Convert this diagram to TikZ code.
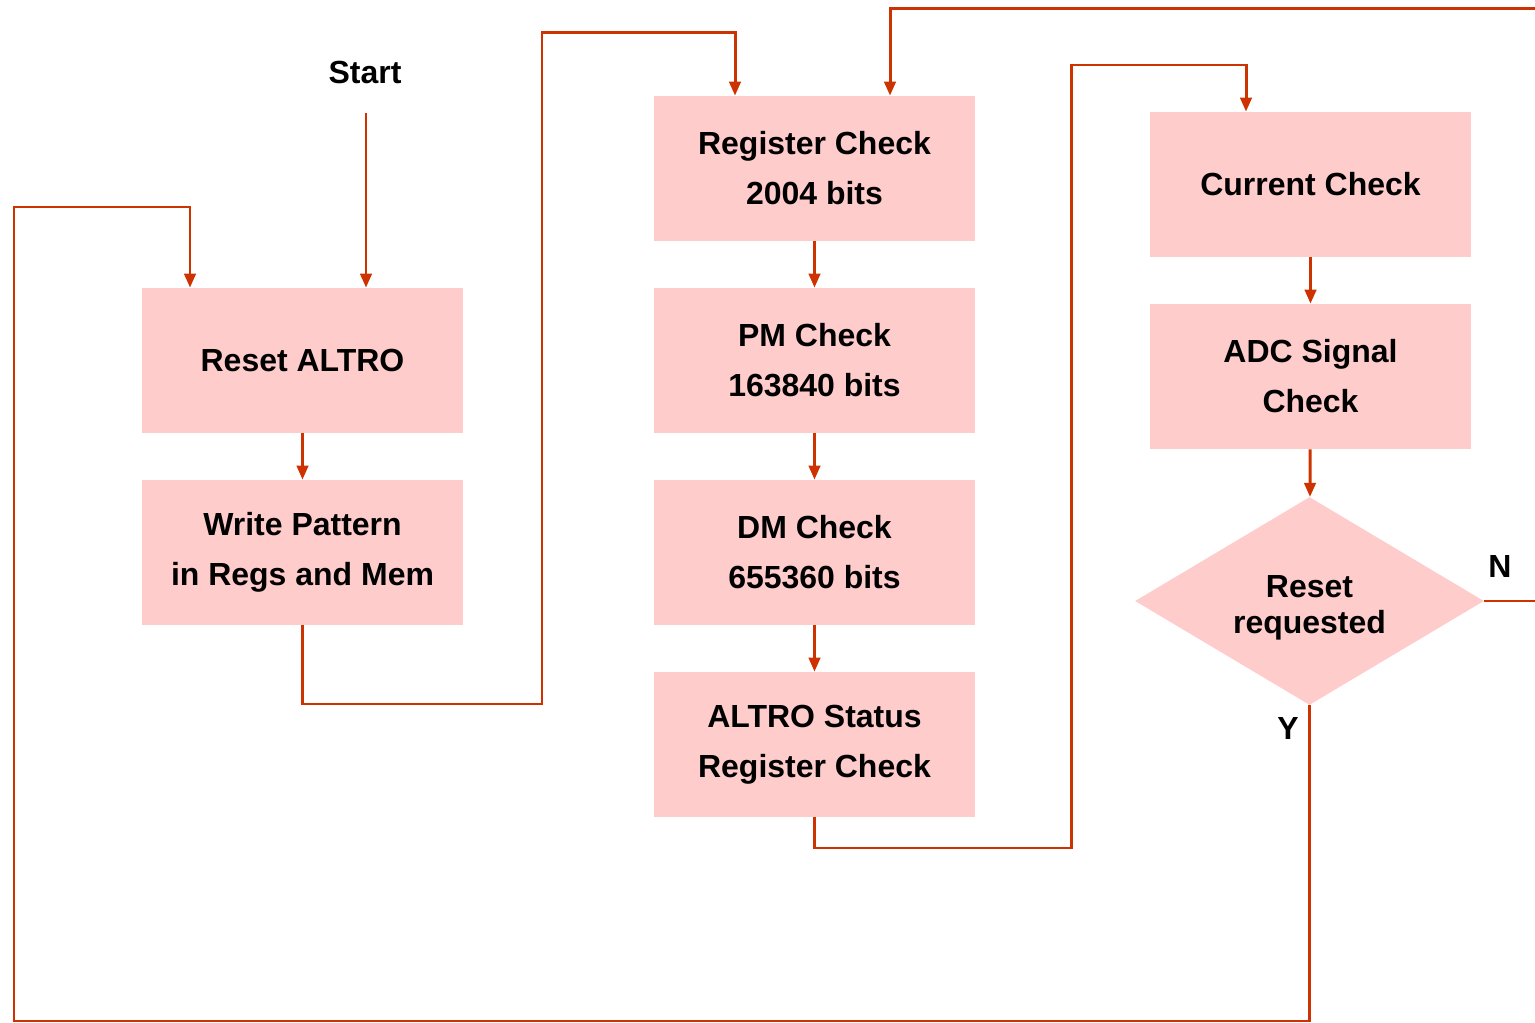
\documentclass[tikz,border=0pt]{standalone}
\usepackage{fontspec}
\setmainfont{Liberation Sans}
\usetikzlibrary{arrows.meta,shapes.geometric}

\definecolor{flowline}{HTML}{CC3300}
\definecolor{boxfill}{HTML}{FFCCCC}

\tikzset{
  stepbox/.style={fill=boxfill, minimum width=6.42cm, minimum height=2.9cm,
    inner sep=0pt, align=center, font=\fontsize{18.2}{28.5}\selectfont\bfseries},
  decision/.style={diamond, fill=boxfill, minimum width=6.98cm, minimum height=4.16cm,
    inner sep=0pt},
  asktext/.style={align=center, font=\fontsize{18.2}{20.5}\selectfont\bfseries},
  flow/.style={flowline, line width=1.7pt},
  flowarrow/.style={flow, -{Triangle[length=8pt,width=6.5pt]}},
  tag/.style={font=\fontsize{18.2}{20}\selectfont\bfseries}
}

\begin{document}
\begin{tikzpicture}[x=0.02cm,y=-0.02cm]
\useasboundingbox (0,0) rectangle (1535,1023);

% first column
\node [tag] (start) at (365,72) {Start};
\node [stepbox] (reset) at (302.5,360.5) {Reset ALTRO};
\node [stepbox] (write) at (302.5,552.5) {Write Pattern\\in Regs and Mem};

% second column
\node [stepbox] (reg) at (814.5,168.5) {Register Check\\2004 bits};
\node [stepbox] (pm) at (814.5,360.5) {PM Check\\163840 bits};
\node [stepbox] (dm) at (814.5,552.5) {DM Check\\655360 bits};
\node [stepbox] (status) at (814.5,744.5) {ALTRO Status\\Register Check};

% third column
\node [stepbox] (current) at (1310.5,184.5) {Current Check};
\node [stepbox] (adc) at (1310.5,376.5) {ADC Signal\\Check};
\node [decision] (ask) at (1309.5,601) {};
\node [asktext] (askq) at (1309.5,608) {Reset\\requested};

\node [tag] (no) at (1500,567) {N};
\node [tag] (yes) at (1288,728) {Y};

\coordinate (startend) at (366,113);
\coordinate (nout) at (1535,601);
\coordinate (nin) at (1535,9);

% straight links
\draw [flowarrow] (startend) -- (reset.north -| startend);
\draw [flowarrow] (reset) -- (write);
\draw [flowarrow] (reg) -- (pm);
\draw [flowarrow] (pm) -- (dm);
\draw [flowarrow] (dm) -- (status);
\draw [flowarrow] (current) -- (adc);
\draw [flowarrow] (adc) -- (ask);

% routed links
\draw [flowarrow] (write.south) -- (302.5,704) -- (542,704) -- (542,33) -- (735,33) -- (reg.north -| 735,0);
\draw [flowarrow] (status.south) -- (814.5,848) -- (1071,848) -- (1071,65) -- (1246,65) -- (current.north -| 1246,0);
\draw [flowarrow] (ask.south) -- (1309.5,1021) -- (14,1021) -- (14,207) -- (190,207) -- (reset.north -| 190,0);
\draw [flow] (ask.east) -- (nout);
\draw [flowarrow] (nin) -- (890,9) -- (reg.north -| 890,0);
\end{tikzpicture}
\end{document}
